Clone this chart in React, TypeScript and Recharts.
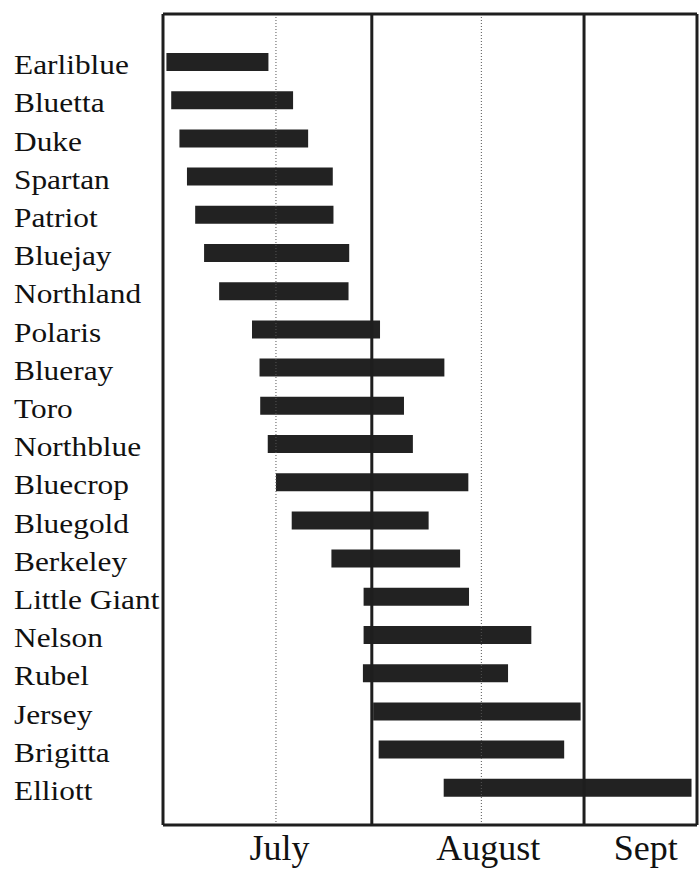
import React from 'react';
import { BarChart, Bar, XAxis, YAxis, ReferenceLine } from 'recharts';

// harvest season, in days counted from July 1
const varieties = [
  'Earliblue', 'Bluetta', 'Duke', 'Spartan', 'Patriot', 'Bluejay', 'Northland',
  'Polaris', 'Blueray', 'Toro', 'Northblue', 'Bluecrop', 'Bluegold', 'Berkeley',
  'Little Giant', 'Nelson', 'Rubel', 'Jersey', 'Brigitta', 'Elliott',
];
const startDay = [1, 1.7, 2.9, 4, 5.2, 6.5, 8.7, 13.5, 14.6, 14.7, 15.8, 17, 19.3, 25.1, 29.8, 29.8, 29.7, 31.2, 32, 41.5];
const endDay = [15.9, 19.5, 21.7, 25.3, 25.4, 27.7, 27.6, 32.2, 41.6, 35.7, 37, 45.1, 39.3, 43.9, 45.2, 54.3, 50.9, 61.5, 59.1, 77.7];

const monthBounds = [31, 62];
const midMonth = [17, 47];
const monthTicks = [17.5, 48, 71];
const monthLabels = ['July', 'August', 'Sept'];

const dayDomain = [0.5, 78.5];
const ink = '#1e1e1e';

const data = varieties.map((name, i) => ({ name, range: [startDay[i], endDay[i]] }));

const NameTick = (props: any) => {
  const { y, payload } = props;
  return (
    <g transform={`translate(14,${y + 12}) scale(1.12,1)`}>
      <text x={0} y={0} fontFamily="'Liberation Serif', 'Times New Roman', serif" fontSize={28} fill="#111">
        {payload.value}
      </text>
    </g>
  );
};

const MonthTick = (props: any) => {
  const { x, y, payload, index } = props;
  return (
    <text x={x} y={y + 27} textAnchor="middle" fontFamily="'Liberation Serif', 'Times New Roman', serif" fontSize={36} fill="#111">
      {monthLabels[index] ?? payload.value}
    </text>
  );
};

export default function App() {
  return (
    <div style={{ position: 'absolute', left: 0, top: 0, background: '#fff' }}>
      <BarChart
        width={700}
        height={870}
        data={data}
        layout="vertical"
        margin={{ top: 13, right: 3, bottom: 0, left: 0 }}
      >
        <XAxis
          type="number"
          domain={dayDomain}
          ticks={monthTicks}
          tick={<MonthTick />}
          axisLine={{ stroke: ink, strokeWidth: 3 }}
          tickLine={false}
          height={45}
          allowDataOverflow
        />
        <XAxis
          xAxisId="top"
          orientation="top"
          type="number"
          domain={dayDomain}
          ticks={[]}
          tick={false}
          axisLine={{ stroke: ink, strokeWidth: 3 }}
          tickLine={false}
          height={1}
          allowDataOverflow
        />
        <YAxis
          type="category"
          dataKey="name"
          width={163}
          tick={<NameTick />}
          axisLine={false}
          tickLine={false}
          padding={{ top: 29, bottom: 18 }}
          interval={0}
        />
        {midMonth.map((d) => (
          <ReferenceLine key={'m' + d} x={d} stroke="#555" strokeWidth={1} strokeDasharray="1 2" />
        ))}
        {[dayDomain[0], ...monthBounds, dayDomain[1]].map((d) => (
          <ReferenceLine key={'b' + d} x={d} stroke={ink} strokeWidth={3} ifOverflow="visible" />
        ))}
        <Bar dataKey="range" fill="#222" barSize={18} isAnimationActive={false} />
      </BarChart>
    </div>
  );
}
